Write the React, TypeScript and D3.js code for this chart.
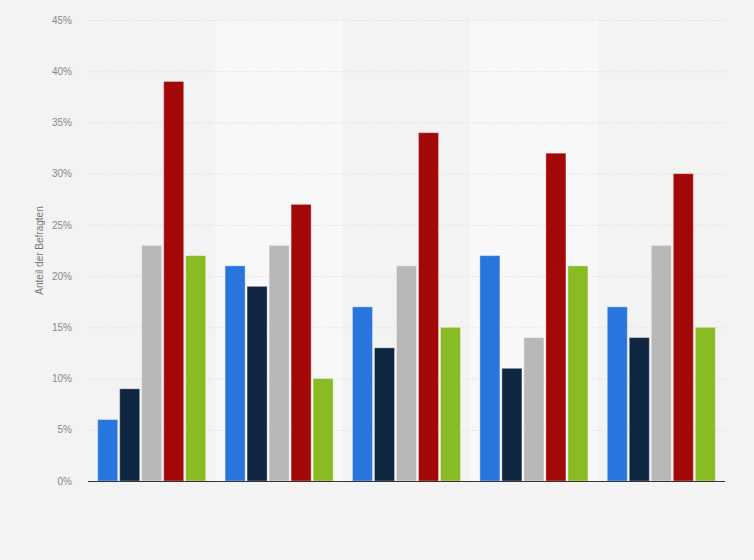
import * as d3 from "d3";
import { useEffect, useRef } from "react";

// data (values in percent)
const groups = ["A", "B", "C", "D", "E"];
const seriesNames = ["s1", "s2", "s3", "s4", "s5"];
const seriesColors = ["#2876dd", "#0f2640", "#b8b8b8", "#a30808", "#88bb24"];
const values: number[][] = [
  [6, 9, 23, 39, 22],
  [21, 19, 23, 27, 10],
  [17, 13, 21, 34, 15],
  [22, 11, 14, 32, 21],
  [17, 14, 23, 30, 15],
];
const yTicks = [0, 5, 10, 15, 20, 25, 30, 35, 40, 45];

export default function App() {
  const svgRef = useRef<SVGSVGElement>(null);
  const width = 754;
  const height = 560;
  const margin = { top: 20, right: 29, bottom: 79, left: 88 };

  useEffect(() => {
    document.body.style.margin = "0";
    const svg = d3.select(svgRef.current);
    svg.selectAll("*").remove();
    const innerW = width - margin.left - margin.right;
    const innerH = height - margin.top - margin.bottom;

    svg.append("rect").attr("width", width).attr("height", height).attr("fill", "#f3f3f3");

    const g = svg.append("g").attr("transform", `translate(${margin.left},${margin.top})`);

    const x = d3.scaleBand().domain(groups).range([0, innerW]).padding(0);
    const xi = d3
      .scaleBand()
      .domain(seriesNames)
      .range([0, x.bandwidth()])
      .paddingInner(0.09)
      .paddingOuter(0.44);
    const y = d3.scaleLinear().domain([0, 45]).range([innerH, 0]);

    // alternating bands
    g.selectAll("rect.band")
      .data(groups.filter((_, i) => i % 2 === 1))
      .enter()
      .append("rect")
      .attr("class", "band")
      .attr("x", (d) => x(d)!)
      .attr("y", 0)
      .attr("width", x.bandwidth())
      .attr("height", innerH)
      .attr("fill", "#f8f8f8");

    // y axis + grid
    const gy = g.append("g").call(
      d3
        .axisLeft(y)
        .tickValues(yTicks)
        .tickSize(-innerW)
        .tickPadding(16)
        .tickFormat((d) => `${d}%`)
    );
    gy.select(".domain").remove();
    gy.selectAll(".tick line")
      .attr("stroke", "#d6d6d6")
      .attr("stroke-dasharray", "1,2");
    gy.selectAll(".tick text")
      .attr("fill", "#888")
      .attr("font-size", 10)
      .attr("font-family", "Arial, Liberation Sans, sans-serif");

    // bars
    groups.forEach((grp, gi) => {
      g.append("g")
        .attr("transform", `translate(${x(grp)},0)`)
        .selectAll("rect")
        .data(values[gi])
        .enter()
        .append("rect")
        .attr("x", (_, i) => xi(seriesNames[i])!)
        .attr("y", (d) => y(d))
        .attr("width", xi.bandwidth())
        .attr("height", (d) => innerH - y(d))
        .attr("fill", (_, i) => seriesColors[i])
        .attr("stroke", "#ffffff")
        .attr("stroke-opacity", 0.35)
        .attr("stroke-width", 1);
    });

    // baseline
    g.append("line")
      .attr("x1", 0)
      .attr("x2", innerW)
      .attr("y1", innerH + 0.5)
      .attr("y2", innerH + 0.5)
      .attr("stroke", "#333")
      .attr("stroke-width", 1);

    // y axis title
    svg
      .append("text")
      .attr("transform", `translate(43,${margin.top + innerH / 2}) rotate(-90)`)
      .attr("text-anchor", "middle")
      .attr("fill", "#777")
      .attr("font-size", 10)
      .attr("font-family", "Arial, Liberation Sans, sans-serif")
      .text("Anteil der Befragten");
  }, []);

  return <svg ref={svgRef} width={width} height={height} style={{ display: "block" }} />;
}
